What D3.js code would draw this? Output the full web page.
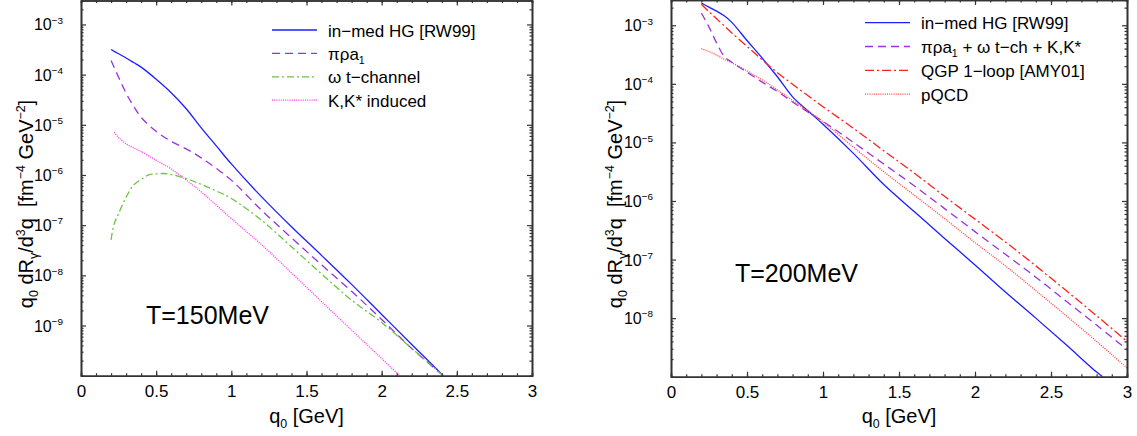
<!DOCTYPE html>
<html><head><meta charset="utf-8">
<script src="https://cdn.jsdelivr.net/npm/d3@7"></script>
<style>
body{margin:0;background:#fff}
svg{display:block}
text{font-family:"Liberation Sans",Arial,Helvetica,sans-serif;fill:#000}
</style>
</head><body>
<svg id="c" width="1137" height="436"></svg>
<script>
// ---------- DATA: T = 150 MeV (left panel) ----------
const q0HG150   = [0.2,0.25,0.3,0.35,0.4,0.5,0.6,0.7,0.8,0.9,1.0,1.2,1.4,1.6,1.8,2.0,2.2,2.41];
const rateHG150 = [3.16e-4,2.6e-4,2.14e-4,1.74e-4,1.41e-4,8.1e-5,4.37e-5,2.09e-5,8.7e-6,3.8e-6,1.66e-6,3.7e-7,9.3e-8,2.5e-8,6.6e-9,1.66e-9,4.2e-10,1e-10];

const q0Pra150   = [0.2,0.25,0.3,0.35,0.4,0.5,0.6,0.7,0.8,0.9,1.0,1.2,1.4,1.6,1.8,2.0,2.2,2.41];
const ratePra150 = [1.91e-4,8.9e-5,4.27e-5,2.34e-5,1.41e-5,7.4e-6,4.68e-6,3.31e-6,2.19e-6,1.35e-6,7.9e-7,2.0e-7,5.6e-8,1.62e-8,4.8e-9,1.32e-9,3.5e-10,1e-10];

const q0Om150   = [0.2,0.22,0.25,0.3,0.35,0.4,0.45,0.5,0.55,0.6,0.7,0.8,0.9,1.0,1.2,1.4,1.6,1.8,2.0,2.2,2.41];
const rateOm150 = [5.1e-8,1.05e-7,1.7e-7,3.6e-7,6.3e-7,8.1e-7,1.0e-6,1.05e-6,1.07e-6,1.02e-6,8.5e-7,6.5e-7,4.8e-7,3.4e-7,1.26e-7,3.7e-8,1.07e-8,3.2e-9,1.15e-9,3.5e-10,1e-10];

const q0K150   = [0.22,0.25,0.3,0.35,0.4,0.5,0.6,0.7,0.8,0.9,1.0,1.2,1.4,1.6,1.8,2.0,2.12];
const rateK150 = [7.1e-6,5.6e-6,4.17e-6,3.47e-6,2.95e-6,1.95e-6,1.32e-6,7.9e-7,4.6e-7,2.5e-7,1.35e-7,4.1e-8,1.12e-8,3.0e-9,8.1e-10,2.2e-10,1e-10];

// ---------- DATA: T = 200 MeV (right panel) ----------
const q0HG200   = [0.2,0.25,0.3,0.35,0.4,0.5,0.6,0.7,0.8,0.9,1.0,1.2,1.4,1.6,1.8,2.0,2.2,2.4,2.6,2.8,2.84];
const rateHG200 = [2.4e-3,2.04e-3,1.74e-3,1.45e-3,1.12e-3,5.5e-4,2.75e-4,1.32e-4,6.0e-5,3.47e-5,2.04e-5,6.5e-6,1.91e-6,6.6e-7,2.29e-7,8.1e-8,2.8e-8,1.0e-8,3.5e-9,1.2e-9,1e-9];

const q0Sum200   = [0.2,0.25,0.3,0.35,0.4,0.5,0.6,0.7,0.8,0.9,1.0,1.2,1.4,1.6,1.8,2.0,2.2,2.4,2.6,2.8,3.0];
const rateSum200 = [1.62e-3,9.3e-4,5.0e-4,2.95e-4,2.34e-4,1.58e-4,1.07e-4,7.4e-5,4.9e-5,3.3e-5,2.29e-5,1.0e-5,4.27e-6,1.82e-6,7.4e-7,3.0e-7,1.23e-7,5.0e-8,1.95e-8,7.6e-9,2.9e-9];

const q0QGP200   = [0.2,0.25,0.3,0.35,0.4,0.5,0.6,0.7,0.8,0.9,1.0,1.2,1.4,1.6,1.8,2.0,2.2,2.4,2.6,2.8,3.0];
const rateQGP200 = [2.29e-3,1.70e-3,1.29e-3,9.8e-4,7.4e-4,4.37e-4,2.57e-4,1.55e-4,9.8e-5,6.3e-5,4.07e-5,1.74e-5,7.2e-6,3.0e-6,1.2e-6,4.9e-7,2.0e-7,7.8e-8,2.95e-8,1.1e-8,4.0e-9];

const q0PQCD200   = [0.2,0.25,0.3,0.35,0.4,0.5,0.6,0.7,0.8,0.9,1.0,1.2,1.4,1.6,1.8,2.0,2.2,2.4,2.6,2.8,3.0];
const ratePQCD200 = [3.98e-4,3.55e-4,3.09e-4,2.63e-4,2.29e-4,1.66e-4,1.17e-4,7.9e-5,5.2e-5,3.47e-5,2.24e-5,8.3e-6,3.16e-6,1.26e-6,5.0e-7,1.95e-7,7.8e-8,2.95e-8,1.1e-8,4.0e-9,1.41e-9];

// ---------- axis ticks / labels ----------
const xTickValues = [0,0.5,1,1.5,2,2.5,3];
const xTickLabels = ["0","0.5","1","1.5","2","2.5","3"];
const yDecades150 = [-9,-8,-7,-6,-5,-4,-3];
const yDecades200 = [-8,-7,-6,-5,-4,-3];

const legend150 = [
  {segs:[["in−med HG [RW99]"]], color:"#1f1fff", dash:null},
  {segs:[["πρa"],["1","sub"]], color:"#9933dd", dash:"8,5"},
  {segs:[["ω t−channel"]], color:"#6cc440", dash:"7,3,2,3"},
  {segs:[["K,K* induced"]], color:"#ff33ee", dash:"1,1.2"}
];
const legend200 = [
  {segs:[["in−med HG [RW99]"]], color:"#1f1fff", dash:null},
  {segs:[["πρa"],["1","sub"],[" + ω t−ch + K,K*"]], color:"#9933dd", dash:"8,5"},
  {segs:[["QGP 1−loop [AMY01]"]], color:"#ff2020", dash:"9,3,2,3"},
  {segs:[["pQCD"]], color:"#ff4040", dash:"1,1.2"}
];

const svg = d3.select("#c");

function rich(sel, segs, size){
  let cur = 0;
  segs.forEach(s=>{
    const kind = s[1];
    const target = kind==="sup" ? -size*0.42 : kind==="sub" ? size*0.25 : 0;
    const t = sel.append("tspan").text(s[0]).attr("dy", target-cur);
    if(kind) t.attr("font-size", size*0.62);
    cur = target;
  });
}

function panel(cfg){
  const {x0,x1,y0,y1,yDomain,decades,series,legend,lx,ly,lstep,temp,tx,ty,ytx} = cfg;
  const x = d3.scaleLinear().domain([0,3]).range([x0,x1]);
  const y = d3.scaleLog().domain(yDomain).range([y1,y0]);
  const g = svg.append("g");
  const id = "clip"+x0;
  svg.append("clipPath").attr("id",id).append("rect")
    .attr("x",x0).attr("y",y0).attr("width",x1-x0).attr("height",y1-y0);

  // curves
  const line = d3.line().x(d=>x(d[0])).y(d=>y(d[1])).curve(d3.curveCatmullRom.alpha(0.5));
  series.forEach(s=>{
    g.append("path").attr("clip-path",`url(#${id})`)
      .datum(s.q.map((q,i)=>[q,s.r[i]]))
      .attr("d",line).attr("fill","none").attr("stroke",s.color)
      .attr("stroke-width",1.3).attr("stroke-dasharray",s.dash);
  });

  // axes
  const minorX = d3.range(0,31).map(i=>i/10);
  const minorY = [];
  const lo = Math.floor(Math.log10(yDomain[0])), hi = Math.ceil(Math.log10(yDomain[1]));
  for(let e=lo;e<hi;e++) for(let k=2;k<=9;k++){const v=k*Math.pow(10,e); if(v>yDomain[0]&&v<yDomain[1]) minorY.push(v);}
  const majorY = decades.map(e=>Math.pow(10,e));
  const style = sel=>{
    sel.attr("font-family",null).attr("font-size",null);
    sel.selectAll("line").attr("stroke","#333").attr("stroke-width",1.2);
    sel.selectAll("path.domain").attr("stroke","#333").attr("stroke-width",1.6);
  };
  const ax = g.append("g");
  ax.append("g").attr("transform",`translate(0,${y1})`)
    .call(d3.axisBottom(x).tickValues(minorX).tickSize(-2.5).tickFormat("")).call(style);
  const bx = ax.append("g").attr("transform",`translate(0,${y1})`)
    .call(d3.axisBottom(x).tickValues(xTickValues).tickSize(-5).tickSizeOuter(0).tickPadding(9.5)
      .tickFormat((d,i)=>xTickLabels[i])).call(style);
  bx.selectAll("text").attr("font-size",17).attr("fill","#000");
  ax.append("g").attr("transform",`translate(0,${y0})`)
    .call(d3.axisTop(x).tickValues(minorX).tickSize(-2.5).tickFormat("")).call(style);
  ax.append("g").attr("transform",`translate(0,${y0})`)
    .call(d3.axisTop(x).tickValues(xTickValues).tickSize(-5).tickSizeOuter(0).tickFormat("")).call(style);
  ax.append("g").attr("transform",`translate(${x0},0)`)
    .call(d3.axisLeft(y).tickValues(minorY).tickSize(-2.5).tickFormat("")).call(style);
  ax.append("g").attr("transform",`translate(${x0},0)`)
    .call(d3.axisLeft(y).tickValues(majorY).tickSize(-5).tickSizeOuter(0).tickFormat("")).call(style);
  ax.append("g").attr("transform",`translate(${x1},0)`)
    .call(d3.axisRight(y).tickValues(minorY).tickSize(-2.5).tickFormat("")).call(style);
  ax.append("g").attr("transform",`translate(${x1},0)`)
    .call(d3.axisRight(y).tickValues(majorY).tickSize(-5).tickSizeOuter(0).tickFormat("")).call(style);
  ax.selectAll("path.domain").attr("stroke","#333").attr("stroke-width",1.6);

  // y tick labels 10^n
  decades.forEach(e=>{
    const t = g.append("text").attr("x",x0-18).attr("y",y(Math.pow(10,e))+6)
      .attr("text-anchor","end").attr("font-size",16);
    rich(t,[["10"],["−"+(-e),"sup"]],16);
  });

  // axis titles
  const xt = g.append("text").attr("x",(x0+x1)/2).attr("y",423).attr("text-anchor","middle").attr("font-size",20);
  rich(xt,[["q"],["0","sub"],[" [GeV]"]],20);
  const yt = g.append("text").attr("transform",`translate(${ytx},204) rotate(-90)`)
    .attr("text-anchor","middle").attr("font-size",20).style("white-space","pre");
  rich(yt,[["q"],["0","sub"],[" dR"],["γ","sub"],["/d"],["3","sup"],["q  [fm"],["−4","sup"],[" GeV"],["−2","sup"],["]"]],20);

  // temperature label
  g.append("text").attr("x",tx).attr("y",ty).attr("font-size",25).text(temp);

  // legend
  legend.forEach((L,i)=>{
    const yy = ly + i*lstep;
    g.append("line").attr("x1",lx).attr("x2",lx+45).attr("y1",yy).attr("y2",yy)
      .attr("stroke",L.color).attr("stroke-width",1.3).attr("stroke-dasharray",L.dash);
    const t = g.append("text").attr("x",lx+56).attr("y",yy+6.5).attr("font-size",17);
    rich(t,L.segs,17);
  });
}

panel({x0:81,x1:532,y0:0.5,y1:375.7,yDomain:[1e-10,3e-3],decades:yDecades150,
  series:[
    {q:q0HG150,r:rateHG150,color:"#1f1fff",dash:null},
    {q:q0Pra150,r:ratePra150,color:"#9933dd",dash:"8,5"},
    {q:q0Om150,r:rateOm150,color:"#6cc440",dash:"7,3,2,3"},
    {q:q0K150,r:rateK150,color:"#ff33ee",dash:"1,1.2"}
  ],
  legend:legend150,lx:272,ly:30,lstep:23.4,temp:"T=150MeV",tx:146,ty:324,ytx:33});

panel({x0:671,x1:1127,y0:0,y1:376.7,yDomain:[1e-9,2.7e-3],decades:yDecades200,
  series:[
    {q:q0HG200,r:rateHG200,color:"#1f1fff",dash:null},
    {q:q0Sum200,r:rateSum200,color:"#9933dd",dash:"8,5"},
    {q:q0QGP200,r:rateQGP200,color:"#ff2020",dash:"9,3,2,3"},
    {q:q0PQCD200,r:ratePQCD200,color:"#ff4040",dash:"1,1.2"}
  ],
  legend:legend200,lx:865,ly:22.7,lstep:23.8,temp:"T=200MeV",tx:735,ty:282,ytx:622});
</script>
</body></html>
